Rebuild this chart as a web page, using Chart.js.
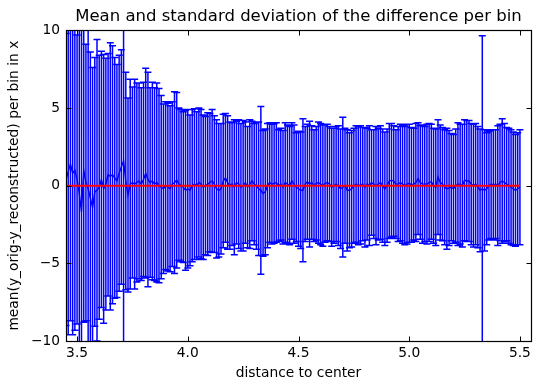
<!DOCTYPE html>
<html>
<head>
<meta charset="utf-8">
<script src="https://cdn.jsdelivr.net/npm/chart.js@4.4.0/dist/chart.umd.min.js"></script>
<style>
  html, body { margin: 0; padding: 0; background: #fff; }
  #wrap { width: 541px; height: 391px; }
</style>
</head>
<body>
<div id="wrap"><canvas id="chart" width="541" height="391"></canvas></div>
<script>
// bin centres (distance to center)
const binCenters = [
  3.45, 3.46, 3.47, 3.48, 3.49, 3.50, 3.51, 3.52, 3.53, 3.54,
  3.55, 3.56, 3.57, 3.58, 3.59, 3.60, 3.61, 3.62, 3.63, 3.64,
  3.65, 3.66, 3.67, 3.68, 3.69, 3.70, 3.71, 3.72, 3.73, 3.74,
  3.75, 3.76, 3.77, 3.78, 3.79, 3.80, 3.81, 3.82, 3.83, 3.84,
  3.85, 3.86, 3.87, 3.88, 3.89, 3.90, 3.91, 3.92, 3.93, 3.94,
  3.95, 3.96, 3.97, 3.98, 3.99, 4.00, 4.01, 4.02, 4.03, 4.04,
  4.05, 4.06, 4.07, 4.08, 4.09, 4.10, 4.11, 4.12, 4.13, 4.14,
  4.15, 4.16, 4.17, 4.18, 4.19, 4.20, 4.21, 4.22, 4.23, 4.24,
  4.25, 4.26, 4.27, 4.28, 4.29, 4.30, 4.31, 4.32, 4.33, 4.34,
  4.35, 4.36, 4.37, 4.38, 4.39, 4.40, 4.41, 4.42, 4.43, 4.44,
  4.45, 4.46, 4.47, 4.48, 4.49, 4.50, 4.51, 4.52, 4.53, 4.54,
  4.55, 4.56, 4.57, 4.58, 4.59, 4.60, 4.61, 4.62, 4.63, 4.64,
  4.65, 4.66, 4.67, 4.68, 4.69, 4.70, 4.71, 4.72, 4.73, 4.74,
  4.75, 4.76, 4.77, 4.78, 4.79, 4.80, 4.81, 4.82, 4.83, 4.84,
  4.85, 4.86, 4.87, 4.88, 4.89, 4.90, 4.91, 4.92, 4.93, 4.94,
  4.95, 4.96, 4.97, 4.98, 4.99, 5.00, 5.01, 5.02, 5.03, 5.04,
  5.05, 5.06, 5.07, 5.08, 5.09, 5.10, 5.11, 5.12, 5.13, 5.14,
  5.15, 5.16, 5.17, 5.18, 5.19, 5.20, 5.21, 5.22, 5.23, 5.24,
  5.25, 5.26, 5.27, 5.28, 5.29, 5.30, 5.31, 5.32, 5.33, 5.34,
  5.35, 5.36, 5.37, 5.38, 5.39, 5.40, 5.41, 5.42, 5.43, 5.44,
  5.45, 5.46, 5.47, 5.48, 5.49, 5.50
];

// mean of y_orig - y_reconstructed per bin
const binMeans = [
  0.4, 0.9, 1.4, 0.8, 1.0, 0.4, -0.5, -1.7, 1.0, 0.2,
  -0.2, -0.8, -1.4, -0.4, -0.3, -0.1, 0.4, -0.2, 0.1, 0.7,
  0.6, 0.7, 0.5, 0.3, 0.8, 1.2, 1.6, 0.3, -0.6, 0.1,
  0.2, 0.1, 0.2, 0.3, 0.1, 0.4, 0.8, 0.4, 0.2, 0.3,
  0.1, 0.2, 0.0, -0.1, -0.2, 0.0, -0.1, -0.2, 0.1, 0.2,
  0.35, 0.1, 0.0, -0.1, -0.3, -0.2, -0.3, 0.0, 0.1, 0.0,
  0.2, 0.1, -0.1, 0.0, 0.1, 0.2, 0.3, 0.1, -0.2, -0.3,
  -0.2, 0.3, 0.5, 0.2, 0.0, 0.1, -0.1, 0.2, 0.1, -0.1,
  0.0, 0.2, -0.1, 0.1, 0.3, 0.1, 0.0, -0.2, -0.3, -0.5,
  -0.4, 0.0, 0.2, 0.1, 0.15, 0.2, 0.0, 0.1, -0.1, 0.2,
  0.1, 0.0, 0.3, 0.1, -0.1, -0.2, -0.3, -0.3, 0.1, 0.25,
  0.1, 0.2, 0.0, 0.15, 0.2, 0.1, 0.0, 0.15, 0.2, 0.1,
  -0.1, 0.0, 0.1, 0.0, -0.2, -0.1, 0.0, -0.3, -0.3, -0.2,
  0.0, 0.1, 0.0, 0.05, 0.1, -0.1, 0.1, 0.0, 0.2, 0.1,
  0.0, 0.1, 0.2, 0.0, -0.2, 0.0, 0.3, 0.35, 0.3, 0.1,
  0.1, 0.2, 0.1, 0.0, 0.1, 0.15, 0.05, 0.1, 0.2, 0.45,
  0.2, 0.1, 0.1, 0.1, 0.2, 0.25, 0.0, -0.1, 0.55, 0.2,
  0.1, -0.1, -0.2, -0.15, -0.1, -0.2, 0.0, 0.1, 0.1, 0.0,
  0.35, 0.3, 0.3, 0.1, 0.0, 0.1, -0.1, -0.3, -0.2, -0.3,
  -0.2, 0.0, 0.1, 0.05, 0.1, 0.0, 0.2, 0.3, 0.2, 0.1,
  0.0, -0.1, -0.2, -0.3, -0.2, -0.1
];

// standard deviation per bin
const binStds = [
  9.4, 10.5, 10.1, 10.4, 10.3, 9.3, 10.6, 11.9, 9.8, 8.9,
  10.3, 9.4, 9.0, 8.65, 9.7, 8.5, 8.25, 8.65, 8.1, 7.8,
  8.6, 8.3, 7.75, 7.5, 7.6, 7.55, 13.5, 7.0, 6.25, 6.75,
  6.15, 6.75, 6.4, 6.3, 6.2, 6.25, 6.75, 6.9, 6.1, 6.35,
  6.2, 6.4, 6.25, 5.9, 5.45, 5.4, 5.4, 5.35, 5.3, 5.85,
  5.65, 4.9, 4.9, 4.85, 5.15, 5.1, 4.85, 4.9, 4.85, 4.75,
  4.8, 4.8, 4.65, 4.45, 4.6, 4.45, 4.6, 4.4, 4.45, 4.3,
  4.2, 4.3, 4.15, 4.3, 4.1, 3.95, 4.35, 3.95, 4.15, 4.1,
  4.2, 3.9, 3.9, 4.15, 3.85, 3.9, 4.1, 4.3, 5.4, 4.05,
  4.05, 4.0, 3.85, 3.85, 3.85, 3.85, 3.6, 3.6, 3.65, 3.85,
  3.8, 3.8, 3.75, 3.8, 3.5, 3.7, 3.75, 4.6, 3.7, 3.7,
  4.05, 3.65, 3.6, 3.65, 3.9, 3.9, 3.9, 3.8, 3.75, 3.7,
  3.8, 3.7, 3.7, 3.85, 3.85, 4.5, 3.7, 3.9, 3.7, 3.75,
  3.7, 3.75, 3.8, 3.8, 3.65, 3.85, 3.6, 3.85, 3.4, 3.5,
  3.8, 3.6, 3.65, 3.65, 3.65, 3.65, 3.7, 3.65, 3.55, 3.5,
  3.7, 3.75, 3.8, 3.8, 3.85, 3.8, 3.7, 3.6, 3.8, 3.6,
  3.65, 3.8, 3.7, 3.85, 3.8, 3.7, 3.7, 3.75, 3.7, 3.7,
  3.65, 3.7, 3.9, 3.7, 3.45, 3.5, 3.65, 3.95, 3.85, 3.95,
  3.9, 3.9, 3.9, 3.9, 3.95, 3.9, 3.9, 3.95, 9.85, 3.9,
  3.6, 3.5, 3.5, 3.55, 3.5, 3.85, 3.75, 4.0, 3.8, 3.65,
  3.7, 3.7, 3.65, 3.6, 3.6, 3.7
];

const xTicks = [3.5, 4.0, 4.5, 5.0, 5.5];
const xTickLabels = ['3.5', '4.0', '4.5', '5.0', '5.5'];
const yTicks = [-10, -5, 0, 5, 10];
const yTickLabels = ['\u221210', '\u22125', '0', '5', '10'];

const FONT = 'DejaVu Sans';
const FONT_SIZE = 13.8;
const CAP_HALF = 3.5;
const TICK_LEN = 5;

// vertical error bars with caps, drawn under the mean line
const errorBarPlugin = {
    id: 'errorBars',
    beforeDatasetsDraw(chart) {
        const { ctx, chartArea: a, scales: { x, y } } = chart;
        ctx.save();
        ctx.beginPath();
        ctx.rect(a.left, a.top, a.right - a.left, a.bottom - a.top);
        ctx.clip();
        ctx.strokeStyle = '#0000ff';
        ctx.lineWidth = 1.5;
        ctx.beginPath();
        binCenters.forEach((c, i) => {
            const px = x.getPixelForValue(c);
            const top = y.getPixelForValue(binMeans[i] + binStds[i]);
            const bot = y.getPixelForValue(binMeans[i] - binStds[i]);
            ctx.moveTo(px, top);
            ctx.lineTo(px, bot);
            ctx.moveTo(px - CAP_HALF, top);
            ctx.lineTo(px + CAP_HALF, top);
            ctx.moveTo(px - CAP_HALF, bot);
            ctx.lineTo(px + CAP_HALF, bot);
        });
        ctx.stroke();
        ctx.restore();
    }
};

// axes box with inward ticks on all four sides
const framePlugin = {
    id: 'frame',
    afterDatasetsDraw(chart) {
        const { ctx, chartArea: a, scales: { x, y } } = chart;
        const l = Math.round(a.left) + 0.5, r = Math.round(a.right) + 0.5;
        const t = Math.round(a.top) + 0.5, b = Math.round(a.bottom) + 0.5;
        ctx.save();
        ctx.strokeStyle = '#000';
        ctx.lineWidth = 1;
        ctx.beginPath();
        xTicks.forEach(v => {
            const px = Math.round(x.getPixelForValue(v)) + 0.5;
            ctx.moveTo(px, b); ctx.lineTo(px, b - TICK_LEN);
            ctx.moveTo(px, t); ctx.lineTo(px, t + TICK_LEN);
        });
        yTicks.forEach(v => {
            const py = Math.round(y.getPixelForValue(v)) + 0.5;
            ctx.moveTo(l, py); ctx.lineTo(l + TICK_LEN, py);
            ctx.moveTo(r, py); ctx.lineTo(r - TICK_LEN, py);
        });
        ctx.stroke();
        ctx.lineWidth = 1.2;
        ctx.strokeRect(l, t, r - l, b - t);
        ctx.restore();
    }
};

const meanPoints = binCenters.map((c, i) => ({ x: c, y: binMeans[i] }));
const zeroPoints = [
    { x: binCenters[0], y: 0 },
    { x: binCenters[binCenters.length - 1], y: 0 }
];

new Chart(document.getElementById('chart'), {
    type: 'line',
    data: {
        datasets: [
            {
                label: 'zero',
                data: zeroPoints,
                borderColor: '#ff0000',
                borderWidth: 2,
                pointRadius: 0,
                tension: 0
            },
            {
                label: 'mean',
                data: meanPoints,
                borderColor: '#0000ff',
                borderWidth: 1.4,
                pointRadius: 0,
                tension: 0
            }
        ]
    },
    options: {
        responsive: false,
        animation: false,
        layout: { padding: { left: 0, right: 10, top: 0, bottom: 0 } },
        plugins: {
            legend: { display: false },
            tooltip: { enabled: false },
            title: {
                display: true,
                text: 'Mean and standard deviation of the difference per bin',
                color: '#000',
                fullSize: false,
                font: { family: FONT, size: 16.5, weight: 'normal' },
                padding: { top: 7, bottom: 3.5 }
            }
        },
        scales: {
            x: {
                type: 'linear',
                min: 3.45,
                max: 5.55,
                afterBuildTicks: s => { s.ticks = xTicks.map(v => ({ value: v })); },
                afterFit: s => { s.height = 50; },
                grid: { display: false, drawTicks: false },
                border: { display: false },
                ticks: {
                    color: '#000',
                    font: { family: FONT, size: FONT_SIZE },
                    padding: 4,
                    maxRotation: 0,
                    autoSkip: false,
                    callback: (v, i) => xTickLabels[i]
                },
                title: {
                    display: true,
                    text: 'distance to center',
                    color: '#000',
                    font: { family: FONT, size: FONT_SIZE },
                    padding: { top: 0, bottom: 9 }
                }
            },
            y: {
                type: 'linear',
                min: -10,
                max: 10,
                afterBuildTicks: s => { s.ticks = yTicks.map(v => ({ value: v })); },
                afterFit: s => { s.width = 66; },
                grid: { display: false, drawTicks: false },
                border: { display: false },
                ticks: {
                    color: '#000',
                    font: { family: FONT, size: FONT_SIZE },
                    padding: 6,
                    autoSkip: false,
                    callback: (v, i) => yTickLabels[i]
                },
                title: {
                    display: true,
                    text: 'mean(y_orig-y_reconstructed) per bin in x',
                    color: '#000',
                    font: { family: FONT, size: FONT_SIZE },
                    padding: { top: 6, bottom: 0 }
                }
            }
        }
    },
    plugins: [errorBarPlugin, framePlugin]
});
</script>
</body>
</html>
